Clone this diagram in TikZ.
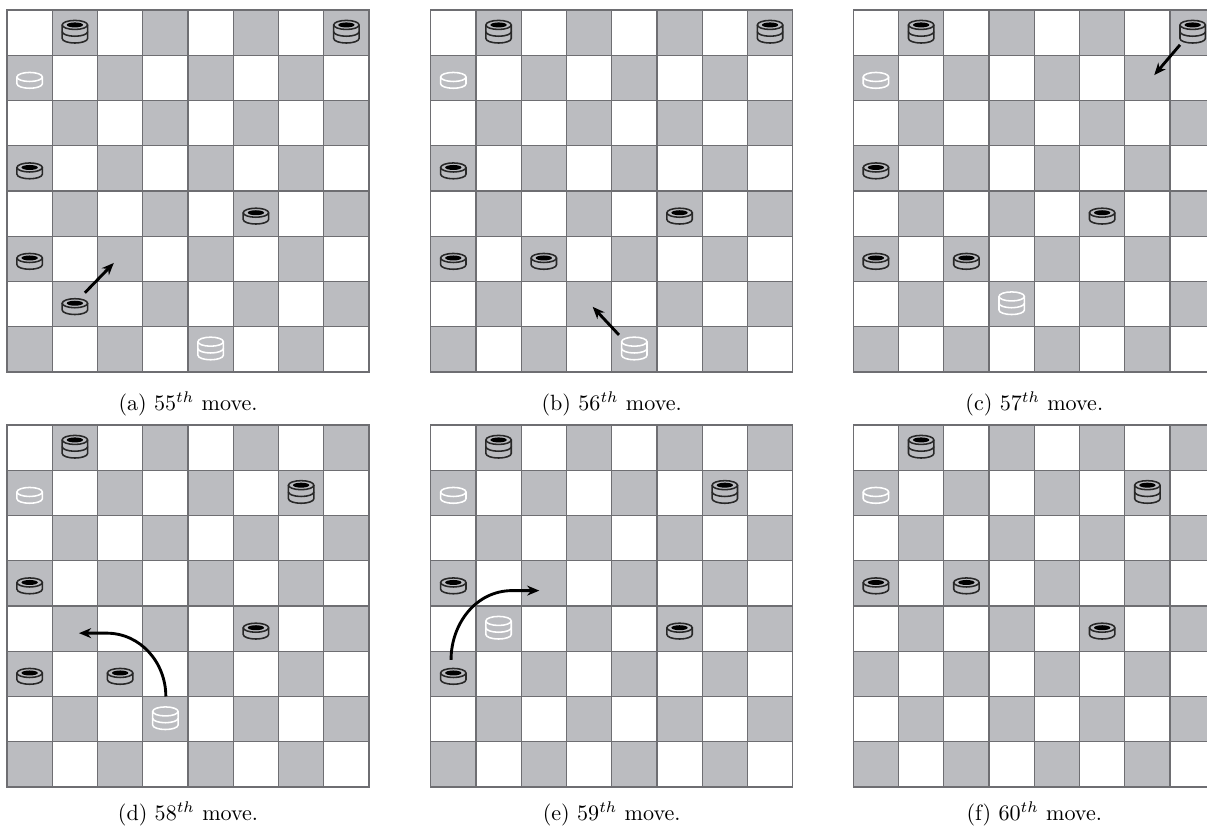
\documentclass[tikz,border=0pt]{standalone}
\usetikzlibrary{arrows.meta}

\definecolor{boardgray}{RGB}{187,188,192}
\definecolor{linegray}{RGB}{110,110,114}
\definecolor{piecedark}{RGB}{40,40,40}

% 8x8 board, top left corner at the origin of the scope
\newcommand{\checkboard}{%
  \foreach \r in {0,...,7}
    \foreach \c in {0,...,7}{
      \pgfmathtruncatemacro{\sqcol}{mod(\r+\c,2)}
      \ifnum\sqcol=1
        \path[darksq] (\c,-\r) rectangle ++(1,-1);
      \else
        \path[lightsq] (\c,-\r) rectangle ++(1,-1);
      \fi
    }%
}

% piece on square (row,col), number of layers, style
\newcommand{\checker}[4]{%
  \begin{scope}[shift={(#2+0.5,-#1-0.5)}, #4]
    \foreach \k in {1,...,#3}{
      \pgfmathsetmacro{\yb}{-0.13+(\k-1)*0.15}
      \pgfmathsetmacro{\yt}{\yb+0.15}
      \filldraw (-0.28,\yt) -- (-0.28,\yb)
        arc[start angle=180, end angle=360, x radius=0.28, y radius=0.1]
        -- (0.28,\yt);
    }
    \pgfmathsetmacro{\ytop}{-0.13+#3*0.15}
    \filldraw (0,\ytop) ellipse [x radius=0.28, y radius=0.1];
    \fill[pcinner] (0,\ytop) ellipse [x radius=0.18, y radius=0.055];
  \end{scope}
}

\begin{document}
\begin{tikzpicture}[
    x=0.72cm, y=0.72cm,
    lightsq/.style={fill=white, draw=linegray, line width=0.5pt},
    darksq/.style={fill=boardgray, draw=linegray, line width=0.5pt},
    pcinner/.style={fill=none},
    darkpc/.style={draw=piecedark, fill=boardgray, line width=0.7pt, pcinner/.style={fill=black}},
    lightpc/.style={draw=white, fill=boardgray, line width=0.7pt, pcinner/.style={fill=none}},
    move/.style={-{Stealth[length=5.5pt,width=4.5pt]}, line width=1.3pt, black},
    caption/.style={anchor=base}
  ]
  \clip (0,0) rectangle (26.674,-18.32);

  % (a) 55th move
  \begin{scope}[shift={(0.155,-0.221)}]
    \checkboard
    \checker{0}{1}{2}{darkpc}
    \checker{0}{7}{2}{darkpc}
    \checker{1}{0}{1}{lightpc}
    \checker{3}{0}{1}{darkpc}
    \checker{4}{5}{1}{darkpc}
    \checker{5}{0}{1}{darkpc}
    \checker{6}{1}{1}{darkpc}
    \checker{7}{4}{2}{lightpc}
    \coordinate (a-from) at (1.72,-6.25);
    \coordinate (a-to) at (2.36,-5.59);
    \draw[move] (a-from) -- (a-to);
  \end{scope}
  \node[caption] (capA) at (4.155,-9.076) {(a) 55$^{th}$ move.};

  % (b) 56th move
  \begin{scope}[shift={(9.518,-0.221)}]
    \checkboard
    \checker{0}{1}{2}{darkpc}
    \checker{0}{7}{2}{darkpc}
    \checker{1}{0}{1}{lightpc}
    \checker{3}{0}{1}{darkpc}
    \checker{4}{5}{1}{darkpc}
    \checker{5}{0}{1}{darkpc}
    \checker{5}{2}{1}{darkpc}
    \checker{7}{4}{2}{lightpc}
    \coordinate (b-from) at (4.16,-7.18);
    \coordinate (b-to) at (3.58,-6.56);
    \draw[move] (b-from) -- (b-to);
  \end{scope}
  \node[caption] (capB) at (13.518,-9.076) {(b) 56$^{th}$ move.};

  % (c) 57th move
  \begin{scope}[shift={(18.857,-0.221)}]
    \checkboard
    \checker{0}{1}{2}{darkpc}
    \checker{0}{7}{2}{darkpc}
    \checker{1}{0}{1}{lightpc}
    \checker{3}{0}{1}{darkpc}
    \checker{4}{5}{1}{darkpc}
    \checker{5}{0}{1}{darkpc}
    \checker{5}{2}{1}{darkpc}
    \checker{6}{3}{2}{lightpc}
    \coordinate (c-from) at (7.22,-0.77);
    \coordinate (c-to) at (6.65,-1.44);
    \draw[move] (c-from) -- (c-to);
  \end{scope}
  \node[caption] (capC) at (22.857,-9.076) {(c) 57$^{th}$ move.};

  % (d) 58th move
  \begin{scope}[shift={(0.155,-9.392)}]
    \checkboard
    \checker{0}{1}{2}{darkpc}
    \checker{1}{0}{1}{lightpc}
    \checker{1}{6}{2}{darkpc}
    \checker{3}{0}{1}{darkpc}
    \checker{4}{5}{1}{darkpc}
    \checker{5}{0}{1}{darkpc}
    \checker{5}{2}{1}{darkpc}
    \checker{6}{3}{2}{lightpc}
    \coordinate (d-from) at (3.51,-6.0);
    \coordinate (d-bend) at (2.2,-4.6);
    \coordinate (d-to) at (1.59,-4.6);
    \draw[move] (d-from) to[out=90, in=0] (d-bend) -- (d-to);
  \end{scope}
  \node[caption] (capD) at (4.155,-18.137) {(d) 58$^{th}$ move.};

  % (e) 59th move
  \begin{scope}[shift={(9.518,-9.392)}]
    \checkboard
    \checker{0}{1}{2}{darkpc}
    \checker{1}{0}{1}{lightpc}
    \checker{1}{6}{2}{darkpc}
    \checker{3}{0}{1}{darkpc}
    \checker{4}{1}{2}{lightpc}
    \checker{4}{5}{1}{darkpc}
    \checker{5}{0}{1}{darkpc}
    \coordinate (e-from) at (0.45,-5.19);
    \coordinate (e-bend) at (1.8,-3.66);
    \coordinate (e-to) at (2.40,-3.66);
    \draw[move] (e-from) to[out=90, in=180] (e-bend) -- (e-to);
  \end{scope}
  \node[caption] (capE) at (13.518,-18.137) {(e) 59$^{th}$ move.};

  % (f) 60th move
  \begin{scope}[shift={(18.857,-9.392)}]
    \checkboard
    \checker{0}{1}{2}{darkpc}
    \checker{1}{0}{1}{lightpc}
    \checker{1}{6}{2}{darkpc}
    \checker{3}{0}{1}{darkpc}
    \checker{3}{2}{1}{darkpc}
    \checker{4}{5}{1}{darkpc}
  \end{scope}
  \node[caption] (capF) at (22.857,-18.137) {(f) 60$^{th}$ move.};

\end{tikzpicture}
\end{document}
